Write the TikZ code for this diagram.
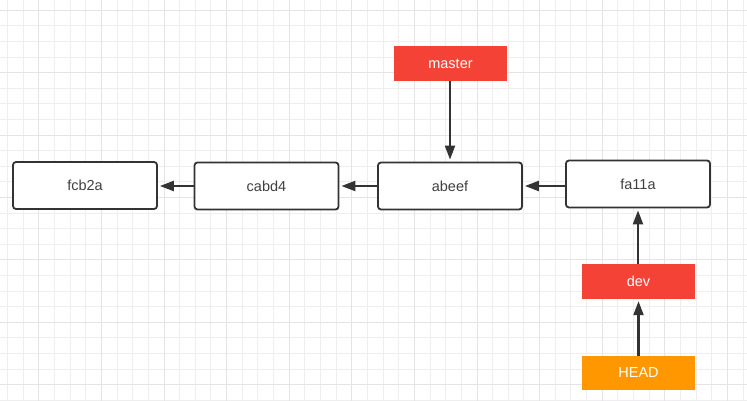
\documentclass[tikz,border=0pt]{standalone}
\usepackage{fontspec}
\setmainfont{Liberation Sans}
\usetikzlibrary{arrows.meta}
\definecolor{gridminor}{HTML}{EEEEEE}
\definecolor{gridmajor}{HTML}{E4E4E4}
\definecolor{lbl}{HTML}{F44336}
\definecolor{headc}{HTML}{FF9800}
\definecolor{ink}{HTML}{333333}
\definecolor{txt}{HTML}{404040}
\tikzset{
  commit/.style={draw=ink, line width=1.8pt, rounded corners=3pt, fill=white, minimum width=144pt, minimum height=47pt, inner sep=0pt, text=txt, font=\fontsize{14.5}{16}\selectfont},
  refbox/.style={fill=lbl, minimum width=113pt, minimum height=35pt, inner sep=0pt, text=white, font=\fontsize{14.5}{16}\selectfont},
  headbox/.style={fill=headc, minimum width=113pt, minimum height=34pt, inner sep=0pt, text=white, font=\fontsize{14.5}{16}\selectfont},
  link/.style={draw=ink, line width=2.1pt, -{Triangle[length=14pt,width=10pt]}, shorten >=2pt}
}
\begin{document}
\begin{tikzpicture}[x=1pt,y=-1pt]
\useasboundingbox (0,0) rectangle (747,401);
\fill[white] (0,0) rectangle (747,401);
\foreach \i in {0,...,47} {
  \pgfmathsetmacro{\xx}{7.4+15.65*\i}
  \draw[gridminor, line width=0.8pt] (\xx,0) -- (\xx,401);
}
\foreach \j in {0,...,25} {
  \pgfmathsetmacro{\yy}{10.2+15.6*\j}
  \draw[gridminor, line width=0.8pt] (0,\yy) -- (747,\yy);
}
\foreach \i in {0,...,11} {
  \pgfmathsetmacro{\xx}{38.7+62.6*\i}
  \draw[gridmajor, line width=0.8pt] (\xx,0) -- (\xx,401);
}
\foreach \j in {0,...,6} {
  \pgfmathsetmacro{\yy}{10.2+62.4*\j}
  \draw[gridmajor, line width=0.8pt] (0,\yy) -- (747,\yy);
}
\node[commit] (fcb) at (85,185.5) {fcb2a};
\node[commit] (cab) at (266.5,186) {cabd4};
\node[commit] (abe) at (450,186) {abeef};
\node[commit] (fa1) at (638,184) {fa11a};
\node[refbox] (master) at (450.5,63.5) {master};
\node[refbox] (dev) at (638.5,281.5) {dev};
\node[headbox] (head) at (638.5,373) {HEAD};
\draw[link] (fa1.west |- abe.east) -- (abe.east);
\draw[link] (abe.west) -- (cab.east);
\draw[link] (cab.west) -- (fcb.east |- cab.west);
\draw[link] (master.south -| abe.north) -- (abe.north);
\draw[link] (dev.north -| fa1.south) -- (fa1.south);
\draw[link] (head.north) -- (dev.south);
\end{tikzpicture}
\end{document}
